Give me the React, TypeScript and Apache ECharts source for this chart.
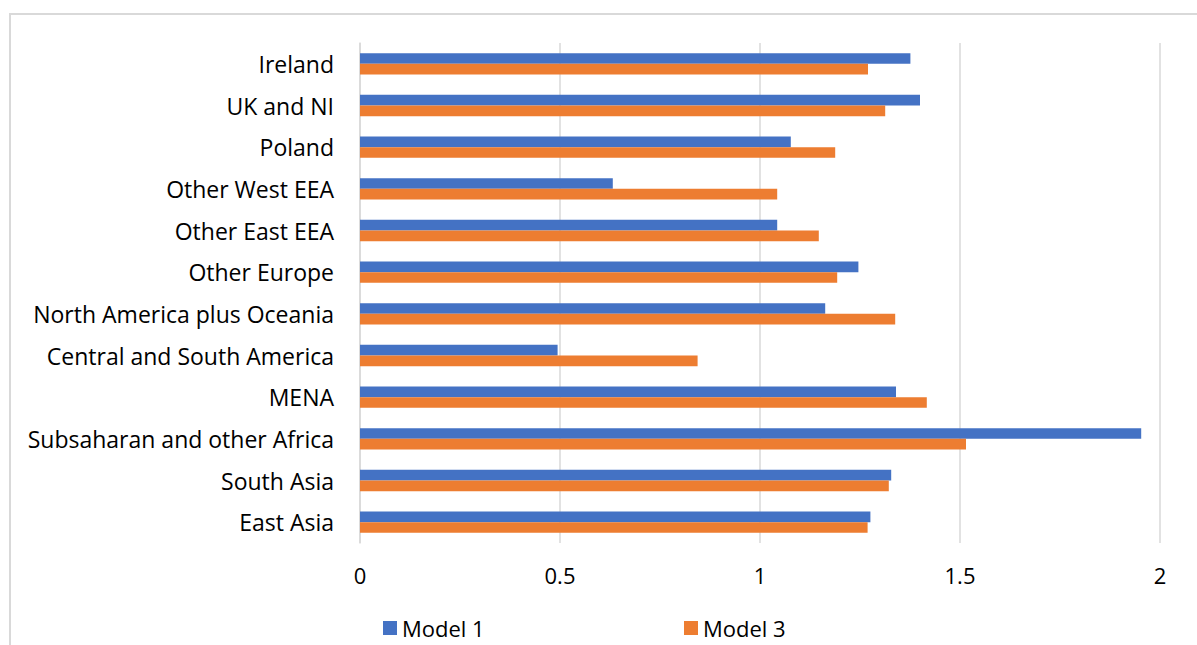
import React, { useEffect, useRef } from "react";
import * as echarts from "echarts";

// Regions, listed top to bottom
const regions = [
  "Ireland",
  "UK and NI",
  "Poland",
  "Other West EEA",
  "Other East EEA",
  "Other Europe",
  "North America plus Oceania",
  "Central and South America",
  "MENA",
  "Subsaharan and other Africa",
  "South Asia",
  "East Asia",
];

const model1 = [1.376, 1.4, 1.077, 0.632, 1.043, 1.246, 1.163, 0.494, 1.34, 1.953, 1.328, 1.276];
const model3 = [1.27, 1.313, 1.188, 1.043, 1.147, 1.193, 1.338, 0.844, 1.417, 1.515, 1.322, 1.269];

const xTicks = { min: 0, max: 2, interval: 0.5 };

const FONT = "'Open Sans', 'Noto Sans', sans-serif";
const GRID_GRAY = "#d9d9d9";

const legendText = { fontFamily: FONT, fontSize: 22, lineHeight: 24, color: "#000" };

export default function App() {
  const ref = useRef<HTMLDivElement>(null);

  useEffect(() => {
    document.body.style.margin = "0";
    if (!ref.current) return;
    const chart = echarts.init(ref.current, null, { renderer: "svg" });
    chart.setOption({
      animation: false,
      backgroundColor: "#ffffff",
      textStyle: { fontFamily: FONT, color: "#000" },
      graphic: [
        {
          type: "rect",
          shape: { x: 10, y: 14, width: 1300, height: 800 },
          style: { fill: "none", stroke: GRID_GRAY, lineWidth: 2 },
          silent: true,
          z: -1,
        },
      ],
      grid: { left: 360, right: 37, top: 43, bottom: 102, containLabel: false },
      xAxis: {
        type: "value",
        min: xTicks.min,
        max: xTicks.max,
        interval: xTicks.interval,
        axisLine: { show: false },
        axisTick: { show: false },
        splitLine: { show: true, lineStyle: { color: GRID_GRAY, width: 1.5 } },
        axisLabel: {
          fontFamily: FONT,
          fontSize: 22,
          color: "#000",
          margin: 21,
          formatter: (v: number) => String(v),
        },
      },
      yAxis: {
        type: "category",
        inverse: true,
        data: regions,
        axisLine: { show: true, lineStyle: { color: GRID_GRAY, width: 1.5 } },
        axisTick: { show: false },
        axisLabel: { fontFamily: FONT, fontSize: 23, color: "#000", margin: 26 },
      },
      legend: [
        {
          data: ["Model 1"],
          left: 383,
          top: 616,
          padding: 0,
          itemWidth: 14,
          itemHeight: 14,
          icon: "rect",
          textStyle: legendText,
        },
        {
          data: ["Model 3"],
          left: 684,
          top: 616,
          padding: 0,
          itemWidth: 14,
          itemHeight: 14,
          icon: "rect",
          textStyle: legendText,
        },
      ],
      series: [
        {
          name: "Model 1",
          type: "bar",
          data: model1,
          barWidth: 10.7,
          barGap: "0%",
          itemStyle: { color: "#4472C4" },
        },
        {
          name: "Model 3",
          type: "bar",
          data: model3,
          barWidth: 10.7,
          barGap: "0%",
          itemStyle: { color: "#ED7D31" },
        },
      ],
    });
    return () => chart.dispose();
  }, []);

  return <div ref={ref} style={{ width: 1197, height: 645 }} />;
}
